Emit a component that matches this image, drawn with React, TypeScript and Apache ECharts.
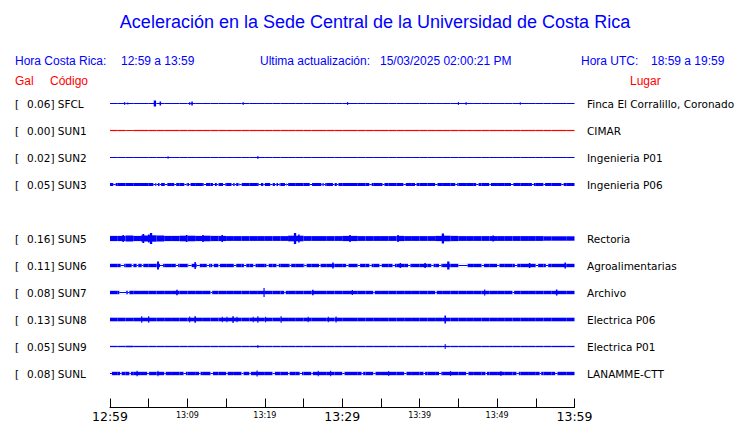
import React, { useEffect, useRef } from "react";
import * as echarts from "echarts";

// ---------------- data ----------------
const TITLE = "Aceleración en la Sede Central de la Universidad de Costa Rica";
const LOCAL_LABEL = "Hora Costa Rica:";
const LOCAL_RANGE = "12:59 a 13:59";
const UPDATE_LABEL = "Ultima actualización:";
const UPDATE_TIME = "15/03/2025 02:00:21 PM";
const UTC_LABEL = "Hora UTC:";
const UTC_RANGE = "18:59 a 19:59";

// row slots (SUN4 has no trace)
const SLOTS = ["SFCL", "SUN1", "SUN2", "SUN3", "SUN4", "SUN5", "SUN6", "SUN7", "SUN8", "SUN9", "SUNL"];
const CODES = ["SFCL", "SUN1", "SUN2", "SUN3", "SUN5", "SUN6", "SUN7", "SUN8", "SUN9", "SUNL"];
const PGA = [0.06, 0.0, 0.02, 0.05, 0.16, 0.11, 0.08, 0.13, 0.05, 0.08];
const PLACES = [
  "Finca El Corralillo, Coronado",
  "CIMAR",
  "Ingenieria P01",
  "Ingenieria P06",
  "Rectoria",
  "Agroalimentarias",
  "Archivo",
  "Electrica P06",
  "Electrica P01",
  "LANAMME-CTT",
];

// time axis: minutes after 12:59
const TIME_MIN = 0;
const TIME_MAX = 60;
const TICK_STEP = 5;
const TICK_LABELS = ["12:59", "", "13:09", "", "13:19", "", "13:29", "", "13:39", "", "13:49", "", "13:59"];
const MAJOR_LABELS = ["12:59", "13:29", "13:59"];

// base half-amplitude of each trace (display units, 27 per row)
const BASE_AMP = [0.5, 0.6, 0.5, 1.5, 2.4, 1.7, 1.7, 1.8, 0.65, 1.7];

// minute-by-minute half-amplitude envelopes of the noisier traces
const ENV_SUN5 = [
  2.6, 2.6, 3.0, 2.6, 3.0, 3.2, 3.0, 2.6, 2.6, 2.8, 2.8, 2.6, 2.8, 2.6, 2.6,
  2.4, 2.4, 2.4, 2.4, 2.4, 2.4, 2.4, 2.4, 2.8, 2.8, 2.4, 2.4, 2.4, 2.4, 2.4,
  2.6, 2.6, 2.4, 2.4, 2.4, 2.4, 2.4, 2.6, 2.4, 2.4, 2.4, 2.4, 2.6, 2.8, 2.6,
  2.4, 2.4, 2.4, 2.4, 2.4, 2.4, 2.4, 2.4, 2.4, 2.4, 2.4, 2.2, 2.2, 2.2, 2.2,
];

// [minute, half-amplitude, width in minutes]
const SPIKES_SFCL = [[1.9, 1.5, 0.13], [2.3, 1, 0.13], [5.8, 3, 0.3], [6.5, 2, 0.2], [10.3, 1.5, 0.13], [10.6, 2, 0.2], [17.2, 1.5, 0.13], [30.7, 1.5, 0.13], [45.0, 1.5, 0.13], [46.0, 1.5, 0.13], [53.0, 1.2, 0.13]];
const SPIKES_SUN1: number[][] = [];
const SPIKES_SUN2 = [[7.5, 1.2, 0.13], [19.1, 1.5, 0.13]];
const SPIKES_SUN3: number[][] = [];
const SPIKES_SUN5 = [[1.7, 3.5, 0.2], [4.3, 4.5, 0.25], [5.3, 5.5, 0.3], [5.0, 4, 0.2], [9.9, 3.5, 0.2], [12.0, 3.5, 0.2], [14.5, 3.5, 0.2], [23.9, 5.5, 0.3], [24.4, 4, 0.2], [31.0, 3.5, 0.2], [37.2, 3.5, 0.2], [43.0, 5, 0.3], [49.5, 3, 0.2]];
const SPIKES_SUN6 = [[6.2, 4, 0.25], [11.0, 3.5, 0.2], [28.8, 3, 0.2], [37.5, 2.5, 0.2], [40.7, 2.5, 0.2], [43.7, 4, 0.3], [54.2, 2.5, 0.2], [58.8, 3, 0.2]];
const SPIKES_SUN7 = [[8.65, 2.8, 0.2], [19.9, 4.5, 0.15], [26.2, 2.8, 0.2], [31.3, 2.5, 0.15], [48.4, 3, 0.15], [57.7, 3, 0.2]];
const SPIKES_SUN8 = [[4.1, 3.2, 0.15], [5.0, 3.2, 0.15], [10.3, 3, 0.13], [11.0, 3.2, 0.2], [14.5, 2.8, 0.13], [15.1, 2.8, 0.13], [15.9, 3.2, 0.2], [16.4, 2.8, 0.13], [18.5, 2.8, 0.13], [19.1, 3.2, 0.15], [20.1, 2.8, 0.13], [22.1, 3.2, 0.15], [25.6, 2.8, 0.13], [28.2, 2.8, 0.13], [29.2, 3, 0.15], [43.3, 4, 0.2]];
const SPIKES_SUN9 = [[19.1, 1.5, 0.13], [43.3, 2.5, 0.13]];
const SPIKES_SUNL = [[3.5, 2.8, 0.15], [6.2, 2.8, 0.13], [19.0, 3, 0.15], [26.9, 2.8, 0.13], [28.5, 2.8, 0.13], [36.0, 2.5, 0.13], [44.0, 2.5, 0.13], [50.5, 2.5, 0.13]];

// quiet stretches inside the noisy bands: [start minute, length in minutes]
const GAPS_SUN3 = [[0.43, 0.3], [5.6, 0.25], [6.0, 0.2], [6.4, 0.2], [7.1, 0.3], [8.3, 0.25], [9.6, 0.3], [10.2, 0.2], [12.1, 0.3], [13.3, 0.25], [13.8, 0.2], [14.6, 0.3], [15.7, 0.2], [16.1, 0.2], [16.6, 0.15], [16.8, 0.2], [19.2, 0.3], [19.8, 0.2], [20.7, 0.3], [21.3, 0.2], [21.7, 0.2], [22.6, 0.15], [22.8, 0.2], [25.8, 0.3], [27.3, 0.15], [27.6, 0.2], [28.8, 0.2], [29.3, 0.2], [33.5, 0.3], [35.2, 0.25], [37.9, 0.3], [39.4, 0.2], [42.0, 0.3], [44.6, 0.25], [47.3, 0.3], [49.0, 0.2], [51.8, 0.3], [54.5, 0.25], [56.0, 0.2], [58.3, 0.3]];
const GAPS_SUN5: number[][] = [];
const GAPS_SUN6 = [[1.38, 0.45], [2.8, 0.2], [3.45, 0.2], [4.1, 0.2], [6.46, 0.4], [8.5, 0.3], [10.1, 0.45], [11.2, 0.4], [12.5, 0.3], [13.2, 0.2], [14.0, 0.2], [16.0, 0.3], [17.3, 0.3], [18.5, 0.3], [20.2, 0.3], [21.5, 0.3], [23.2, 0.2], [25.1, 0.3], [27.0, 0.2], [30.5, 0.3], [32.0, 0.3], [33.5, 0.3], [34.8, 0.3], [36.5, 0.3], [38.5, 0.3], [41.5, 0.3], [42.5, 0.3], [45.0, 1.2], [48.0, 0.3], [50.0, 0.3], [52.3, 0.3], [55.0, 0.3], [56.3, 0.3]];
const GAPS_SUN7 = [[1.2, 0.9], [2.3, 0.2], [13.0, 0.2], [22.5, 0.2], [34.0, 0.2], [42.0, 0.2], [52.0, 0.2]];
const GAPS_SUN8: number[][] = [];
const GAPS_SUNL = [[0.0, 0.25], [1.3, 0.2], [2.5, 0.2], [4.8, 0.25], [7.0, 0.2], [9.5, 0.3], [11.5, 0.2], [13.0, 0.3], [15.0, 0.2], [17.0, 0.25], [18.0, 0.2], [21.0, 0.3], [23.0, 0.2], [24.5, 0.3], [26.0, 0.2], [30.0, 0.3], [32.5, 0.2], [34.0, 0.3], [38.0, 0.3], [40.5, 0.2], [42.5, 0.3], [46.0, 0.3], [48.5, 0.2], [52.5, 0.3], [55.5, 0.2], [57.5, 0.3]];

const SPIKES = [SPIKES_SFCL, SPIKES_SUN1, SPIKES_SUN2, SPIKES_SUN3, SPIKES_SUN5, SPIKES_SUN6, SPIKES_SUN7, SPIKES_SUN8, SPIKES_SUN9, SPIKES_SUNL];
const GAPS = [[], [], [], GAPS_SUN3, GAPS_SUN5, GAPS_SUN6, GAPS_SUN7, GAPS_SUN8, [], GAPS_SUNL];
const ENVELOPES: Record<string, number[]> = { SUN5: ENV_SUN5 };

// ---------------- layout / style ----------------
const BLUE = "#0000ff";
const RED = "#ff0000";
const WHITE = "#ffffff";
const PALETTE = [BLUE, RED, WHITE];
const ROW_UNIT = 27;
const GRID_LEFT = 110;
const GRID_WIDTH = 464.5;
const GRID_TOP = 90;
const ROW0_Y = GRID_TOP + ROW_UNIT / 2;
const LABEL_FONT = "DejaVu Sans";
const HEAD_FONT = "Liberation Sans";

function buildItems() {
  const items: number[][] = [];
  CODES.forEach((code, i) => {
    const slot = SLOTS.indexOf(code);
    const yv = slot * ROW_UNIT;
    const col = code === "SUN1" ? 1 : 0;
    const env = ENVELOPES[code];
    for (let m = TIME_MIN; m < TIME_MAX; m++) {
      const a = env ? env[m] : BASE_AMP[i];
      items.push([m, m + 1, yv, a, col]);
    }
    GAPS[i].forEach(([g, w]) => {
      const a = env ? env[Math.floor(g)] : BASE_AMP[i];
      items.push([g, g + w, yv, a + 0.5, 2]);
      items.push([g, g + w, yv, 0.5, col]);
    });
    SPIKES[i].forEach(([t, a, w]) => {
      items.push([t - w / 2, t + w / 2, yv, a, col]);
    });
  });
  return items;
}

function textEl(text: string, x: number, y: number, fill: string, fontSize: number, fontFamily: string, align = "left") {
  return {
    type: "text",
    x,
    y,
    silent: true,
    style: { text, fill, fontSize, fontFamily, align, verticalAlign: "middle" },
  };
}

export default function App() {
  const ref = useRef<HTMLDivElement>(null);
  useEffect(() => {
    if (!ref.current) return;
    const chart = echarts.init(ref.current, undefined, { renderer: "svg" });
    const graphics: any[] = [];
    graphics.push(textEl(TITLE, 375, 22, BLUE, 18, HEAD_FONT, "center"));
    graphics.push(textEl(LOCAL_LABEL, 15, 61, BLUE, 12, HEAD_FONT));
    graphics.push(textEl(LOCAL_RANGE, 121, 61, BLUE, 12, HEAD_FONT));
    graphics.push(textEl(UPDATE_LABEL, 260, 61, BLUE, 12, HEAD_FONT));
    graphics.push(textEl(UPDATE_TIME, 380, 61, BLUE, 12, HEAD_FONT));
    graphics.push(textEl(UTC_LABEL, 581, 61, BLUE, 12, HEAD_FONT));
    graphics.push(textEl(UTC_RANGE, 651, 61, BLUE, 12, HEAD_FONT));
    graphics.push(textEl("Gal", 15, 81, RED, 12, HEAD_FONT));
    graphics.push(textEl("Código", 50, 81, RED, 12, HEAD_FONT));
    graphics.push(textEl("Lugar", 630, 81, RED, 12, HEAD_FONT));
    CODES.forEach((code, i) => {
      const y = ROW0_Y + SLOTS.indexOf(code) * ROW_UNIT + 0.5;
      graphics.push(textEl("[", 15, y, "#000", 10.5, LABEL_FONT));
      graphics.push(textEl(`${PGA[i].toFixed(2)}] ${code}`, 27, y, "#000", 10.5, LABEL_FONT));
      graphics.push(textEl(PLACES[i], 587, y, "#000", 10.5, LABEL_FONT));
    });

    const option: any = {
      animation: false,
      backgroundColor: "#ffffff",
      grid: [
        { left: GRID_LEFT, width: GRID_WIDTH, top: GRID_TOP, height: ROW_UNIT * SLOTS.length },
        { left: GRID_LEFT, width: GRID_WIDTH, top: 400, height: 9 },
      ],
      xAxis: [
        { gridIndex: 0, type: "value", min: TIME_MIN, max: TIME_MAX, show: false },
        {
          gridIndex: 1,
          type: "value",
          min: TIME_MIN,
          max: TIME_MAX,
          interval: TICK_STEP,
          position: "bottom",
          axisLine: { show: true, lineStyle: { color: "#000", width: 1 } },
          axisTick: { show: true, inside: true, length: 9, lineStyle: { color: "#000", width: 1 } },
          splitLine: { show: false },
          axisLabel: {
            show: true,
            showMinLabel: true,
            showMaxLabel: true,
            margin: 2,
            formatter: (v: number) => {
              const lab = TICK_LABELS[Math.round((v - TIME_MIN) / TICK_STEP)] || "";
              if (!lab) return "";
              return MAJOR_LABELS.includes(lab) ? `{big|${lab}}` : `{small|${lab}}`;
            },
            rich: {
              big: { fontSize: 12.5, fontFamily: LABEL_FONT, color: "#000", lineHeight: 14 },
              small: { fontSize: 8, fontFamily: LABEL_FONT, color: "#000", lineHeight: 12 },
            },
          },
        },
      ],
      yAxis: [
        {
          gridIndex: 0,
          type: "value",
          inverse: true,
          min: -ROW_UNIT / 2,
          max: ROW_UNIT * SLOTS.length - ROW_UNIT / 2,
          show: false,
        },
        { gridIndex: 1, type: "value", min: 0, max: 1, show: false },
      ],
      graphic: graphics,
      series: [
        {
          type: "custom",
          xAxisIndex: 0,
          yAxisIndex: 0,
          silent: true,
          clip: false,
          encode: { x: [0, 1], y: 2 },
          data: buildItems(),
          renderItem: (_p: any, api: any) => {
            const t0 = api.value(0);
            const t1 = api.value(1);
            const yv = api.value(2);
            const a = api.value(3);
            const c = PALETTE[api.value(4)];
            const p0 = api.coord([t0, yv - a]);
            const p1 = api.coord([t1, yv + a]);
            return {
              type: "rect",
              shape: {
                x: Math.min(p0[0], p1[0]),
                y: Math.min(p0[1], p1[1]),
                width: Math.abs(p1[0] - p0[0]),
                height: Math.abs(p1[1] - p0[1]),
              },
              style: { fill: c },
            };
          },
        },
      ],
    };
    chart.setOption(option);
    return () => chart.dispose();
  }, []);
  return <div ref={ref} style={{ width: 740, height: 423, position: "absolute", left: 0, top: 0 }} />;
}
